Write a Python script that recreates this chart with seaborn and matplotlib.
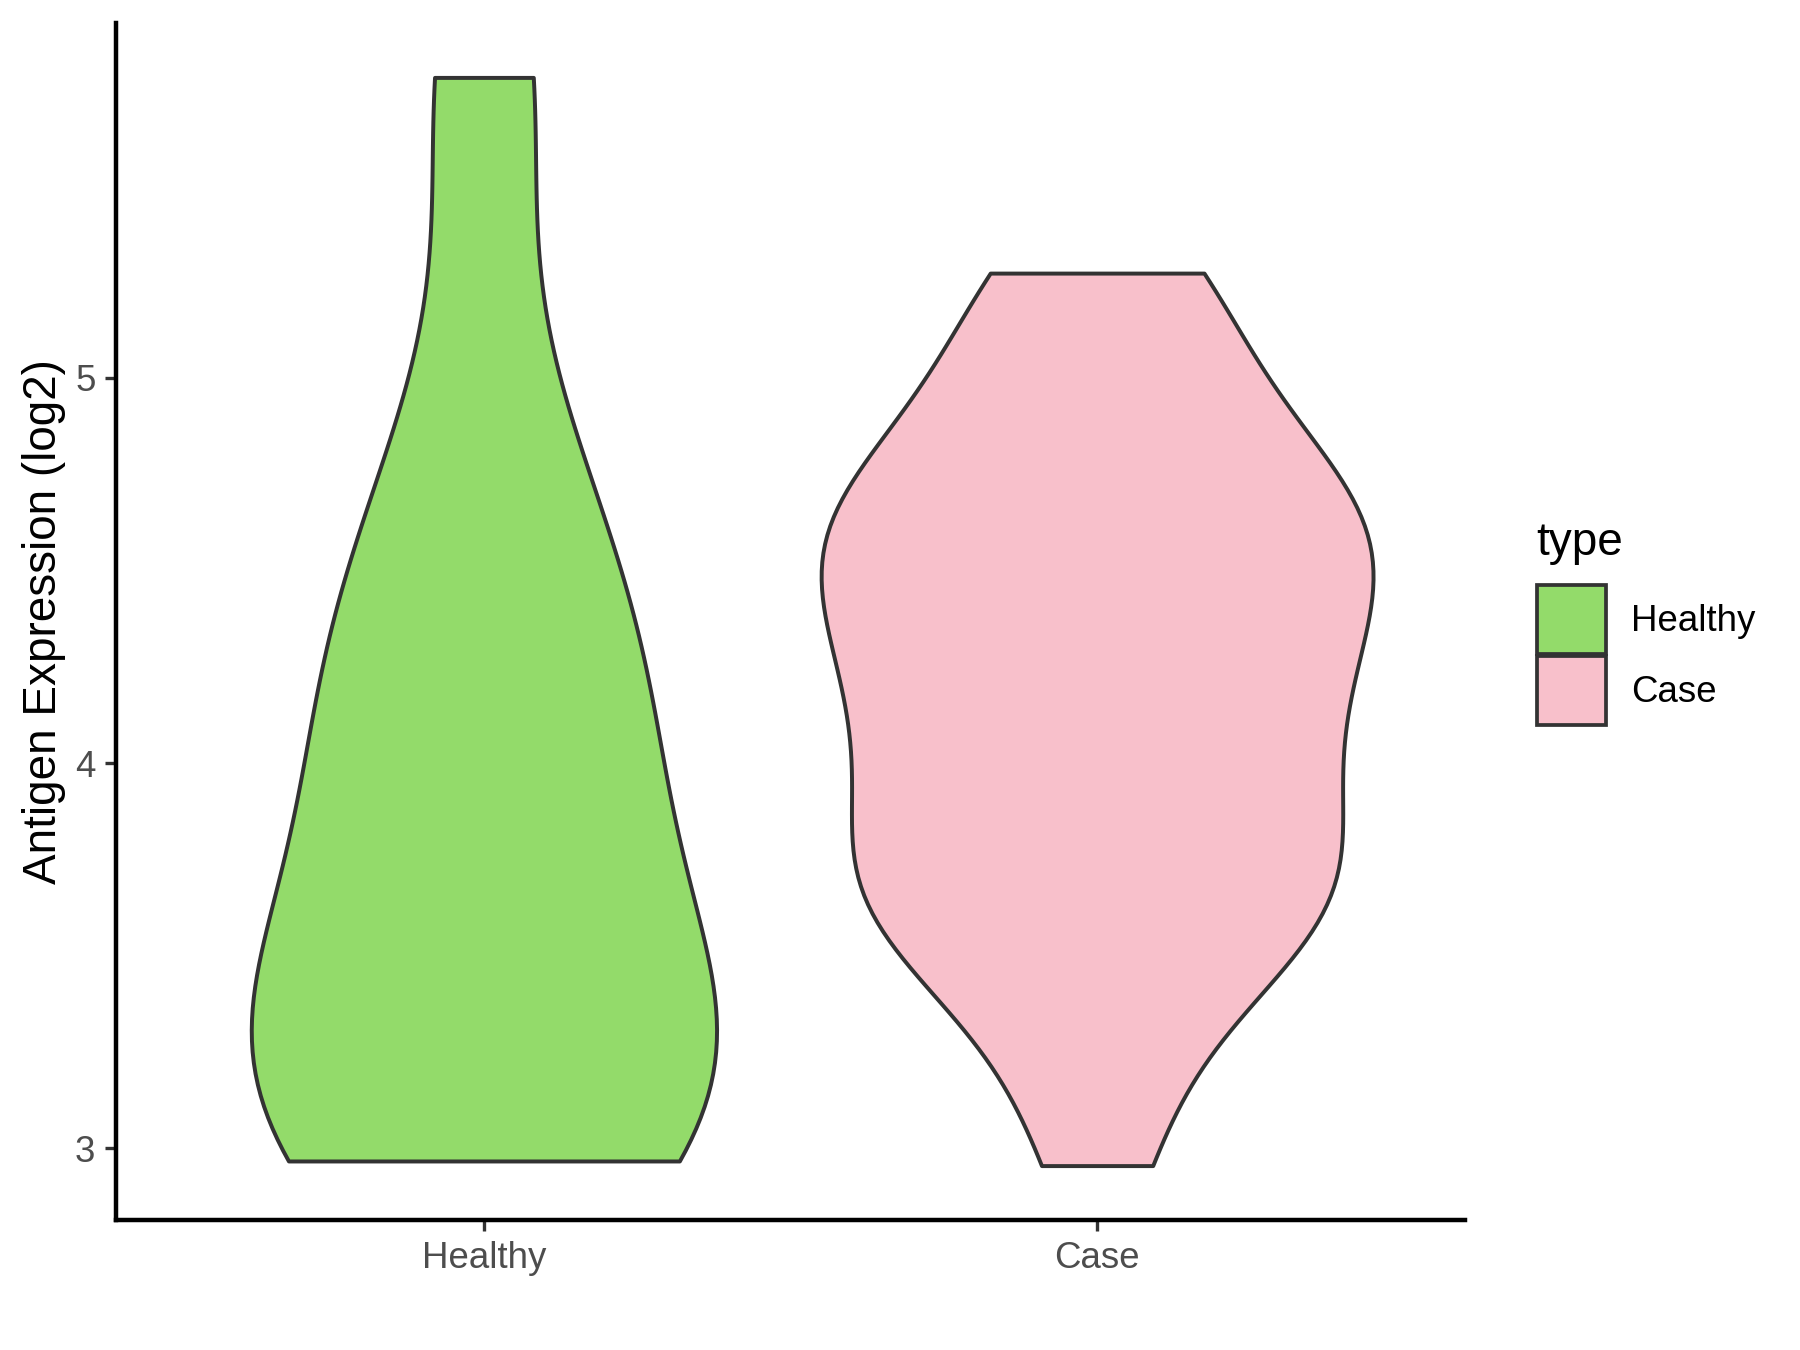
import numpy as np
import pandas as pd
import matplotlib
matplotlib.use("Agg")
import matplotlib.pyplot as plt
from matplotlib.patches import Patch
import seaborn as sns

# ---- data ----
categories = ["Healthy", "Case"]
colors = ["#93DB6A", "#F8C0CB"]
healthy_vals = [2.967, 3.082, 3.138, 3.36, 3.407, 3.96, 4.083, 4.389, 4.786, 5.78]
case_vals = [2.955, 3.204, 3.458, 3.497, 3.573, 3.624, 3.704, 3.761, 3.776, 3.898,
             3.972, 4.114, 4.141, 4.186, 4.27, 4.329, 4.471, 4.488, 4.56, 4.569,
             4.617, 4.692, 4.794, 4.805, 4.944, 5.108, 5.258, 5.272]
y_ticks = [3, 4, 5]
bw = 0.786

pal = dict(zip(categories, colors))
df = pd.DataFrame({"type": ["Healthy"] * len(healthy_vals) + ["Case"] * len(case_vals),
                   "expr": healthy_vals + case_vals})

plt.rcParams["font.family"] = ["Liberation Sans", "DejaVu Sans"]

fig = plt.figure(figsize=(6, 4.5), dpi=300)
ax = fig.add_axes([116 / 1800, 1 - 1220 / 1350, (1465 - 116) / 1800, (1220 - 23) / 1350])
sns.violinplot(data=df, x="type", y="expr", hue="type", order=categories, hue_order=categories,
               palette=pal, cut=0, inner=None, width=0.9, linewidth=0.95, linecolor="#333333",
               bw_adjust=bw, density_norm="area", common_norm=True, saturation=1,
               legend=False, ax=ax)
lo, hi = df.expr.min(), df.expr.max()
ax.set_ylim(lo - 0.05 * (hi - lo), hi + 0.05 * (hi - lo))
ax.set_xlim(-0.6, 1.6)
ax.set_yticks(y_ticks)
for s in ("top", "right"):
    ax.spines[s].set_visible(False)
for s in ("left", "bottom"):
    ax.spines[s].set_linewidth(1.07)
    ax.spines[s].set_color("black")
ax.tick_params(length=2.74, width=0.8, color="#333333", labelcolor="#4D4D4D", labelsize=8.8, pad=2.2)
ax.set_xlabel("")
ax.set_ylabel("Antigen Expression (log2)", fontsize=11, color="black", labelpad=2.2)

fig.text(1536 / 1800, 1 - 555 / 1350, "type", fontsize=11, va="baseline", ha="left")
handles = [Patch(facecolor=pal[k], edgecolor="#333333", linewidth=0.9, label=k) for k in categories]
fig.legend(handles=handles, loc="upper left", bbox_to_anchor=(1537 / 1800, 1 - 585 / 1350),
           frameon=False, fontsize=8.8, handlelength=1.88, handleheight=2.515,
           labelspacing=0.055, handletextpad=0.69, borderpad=0, borderaxespad=0)
fig.savefig("out.png", dpi=300)
